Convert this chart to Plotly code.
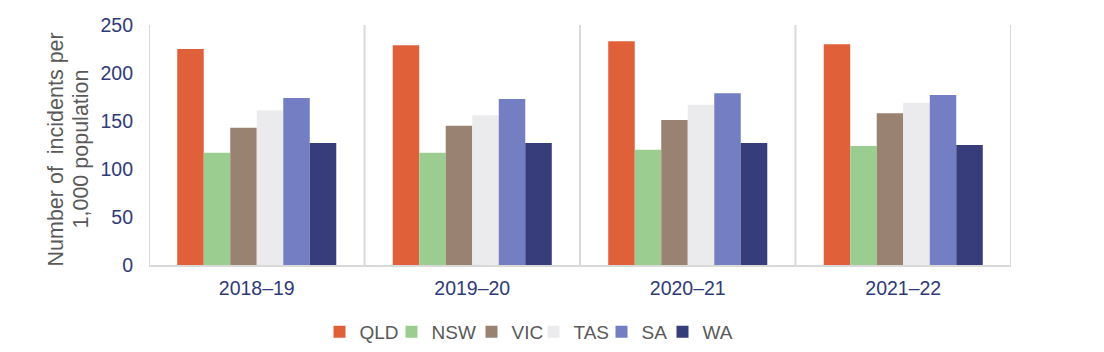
import plotly.graph_objects as go

categories = ["2018–19", "2019–20", "2020–21", "2021–22"]
series_names = ["QLD", "NSW", "VIC", "TAS", "SA", "WA"]
qld = [225, 229, 233, 230]
nsw = [117, 117, 120, 124]
vic = [143, 145, 151, 158]
tas = [161, 156, 167, 169]
sa = [174, 173, 179, 177]
wa = [127, 127, 127, 125]
y_ticks = [0, 50, 100, 150, 200, 250]
y_title_lines = ["Number of  incidents per", "1,000 population"]

values = [qld, nsw, vic, tas, sa, wa]
colors = ["#E0603A", "#9ACD8F", "#9A8272", "#EBEBED", "#747FC3", "#373D7B"]

FONT = "Liberation Sans, Arial, sans-serif"
NAVY = "#2F3A78"
GRAY = "#595959"

L, R, T, B = 149, 93, 25, 87
W, H = 1104, 352
pw = W - L - R
ph = H - T - B

# legend square centres (px) from reference
legend_px = [339.5, 411.5, 491.5, 553.5, 621.5, 682.5]

fig = go.Figure()
layout_legends = {}
for i, (name, vals, col) in enumerate(zip(series_names, values, colors)):
    key = "legend" if i == 0 else f"legend{i+1}"
    fig.add_trace(go.Bar(x=categories, y=vals, name=name, marker=dict(color=col, line=dict(width=0)),
                         legend=key))
    layout_legends[key] = dict(
        xref="container", yref="container",
        x=(legend_px[i] - 20) / W, xanchor="left",
        y=1 - 332 / H, yanchor="middle",
        orientation="h", font=dict(family=FONT, size=19, color=GRAY),
        bgcolor="rgba(0,0,0,0)", borderwidth=0,
    )

# category divider lines
for k in range(len(categories) + 1):
    fig.add_shape(type="line", xref="x", yref="paper", x0=k - 0.5, x1=k - 0.5, y0=0, y1=1,
                  line=dict(color="#D9D9D9", width=2), layer="below")

for line_text, cx in zip(y_title_lines, [55, 80]):
    fig.add_annotation(text=line_text, textangle=-90,
                       xref="paper", yref="paper", x=(cx - L) / pw, y=(H - B - 149.5) / ph,
                       xanchor="center", yanchor="middle", showarrow=False,
                       font=dict(family=FONT, size=21.5, color=GRAY))

fig.update_layout(
    width=W, height=H,
    margin=dict(l=L, r=R, t=T, b=B, autoexpand=False),
    paper_bgcolor="white", plot_bgcolor="white",
    barmode="group", bargap=0.262, bargroupgap=0,
    font=dict(family=FONT, size=19, color=NAVY),
    showlegend=True,
    **layout_legends,
)
fig.update_xaxes(showgrid=False, showline=True, linecolor="#D9D9D9", linewidth=2,
                 tickfont=dict(family=FONT, size=19.5, color=NAVY), ticks="",
                 ticklabelstandoff=5, range=[-0.5, 3.5], zeroline=False)
fig.update_yaxes(range=[0, 250], tickvals=y_ticks, showgrid=False, zeroline=False, showline=False,
                 tickfont=dict(family=FONT, size=19.5, color=NAVY), ticks="",
                 ticklabelstandoff=15)

fig.write_html("out.html")
